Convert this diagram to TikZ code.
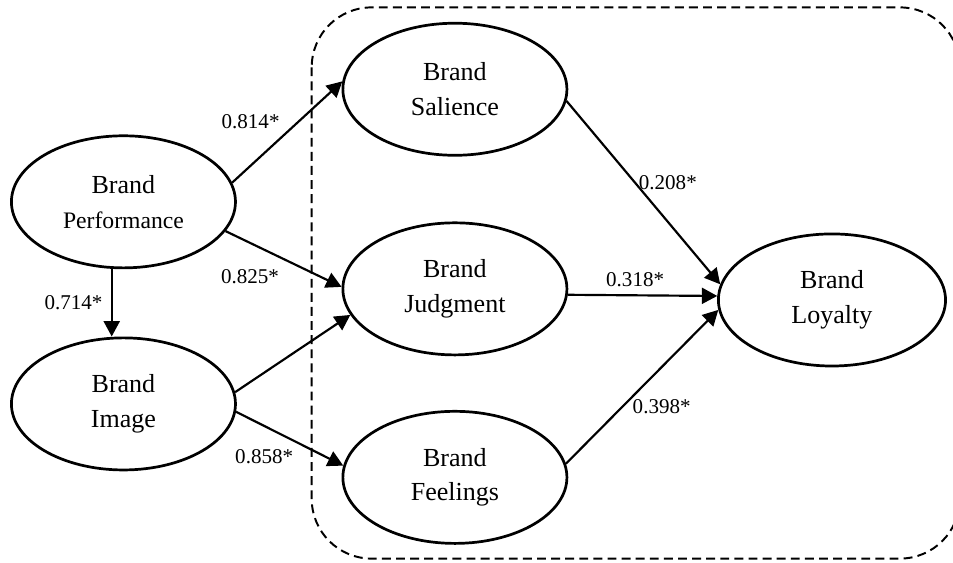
\documentclass[tikz,border=0pt]{standalone}
\usepackage{fontspec}
\setmainfont{Liberation Serif}
\usepackage{tikz}
\usetikzlibrary{shapes.geometric, arrows.meta, positioning, calc}
\tikzset{
	construct/.style={ellipse, draw=black, line width=1.25pt, minimum width=3.63cm, minimum height=2.14cm, inner sep=0pt, align=center, font=\fontsize{12}{16}\selectfont},
	path_arrow/.style={-{Triangle[length=0.25cm, width=0.26cm]}, draw=black, line width=1pt},
	coef/.style={font=\fontsize{9.7}{12}\selectfont, inner sep=0pt},
	zone_box/.style={draw=black, line width=0.9pt, dash pattern=on 4.1pt off 2.4pt, rounded corners=0.97cm}
}
\begin{document}
\begin{tikzpicture}
					\useasboundingbox (-2.0,3.27) rectangle (13.44,-5.85);
					\node[construct] (perf) at (0,0) {Brand\\{\fontsize{10.9}{16}\selectfont Performance}};
					\node[construct, below=1.09cm of perf] (img) {Brand\\Image};
					\node[construct] (jud) at (5.37,-1.41) {Brand\\Judgment};
					\node[construct, above=1.05cm of jud] (sal) {Brand\\Salience};
					\node[construct, below=0.87cm of jud] (feel) {Brand\\Feelings};
					\node[construct, right=2.41cm of jud, yshift=-0.18cm, minimum width=3.68cm] (loyal) {Brand\\Loyalty};
					\draw[zone_box] (3.05,3.15) rectangle (13.55,-5.78);
					\draw[path_arrow] ([xshift=-0.19cm]perf.south) -- ([xshift=-0.19cm]img.north);
					\draw[path_arrow] (perf.10) -- (sal.176);
					\draw[path_arrow] (perf.-16) -- (jud.179);
					\draw[path_arrow] (img.6) -- (jud.194);
					\draw[path_arrow] (img.-4) -- (feel.174);
					\draw[path_arrow] (sal.-6) -- (loyal.172);
					\draw[path_arrow] (jud.-3) -- (loyal.178);
					\draw[path_arrow] (feel.7) -- (loyal.185);
					\node[coef] (c_ps) at (2.06,1.30) {0.814*};
					\node[coef] (c_pj) at (2.05,-1.22) {0.825*};
					\node[coef] (c_pi) at (-0.81,-1.64) {0.714*};
					\node[coef] (c_if) at (2.28,-4.13) {0.858*};
					\node[coef] (c_sl) at (8.82,0.31) {0.208*};
					\node[coef] (c_jl) at (8.29,-1.26) {0.318*};
					\node[coef] (c_fl) at (8.72,-3.32) {0.398*};
				\end{tikzpicture}
\end{document}
